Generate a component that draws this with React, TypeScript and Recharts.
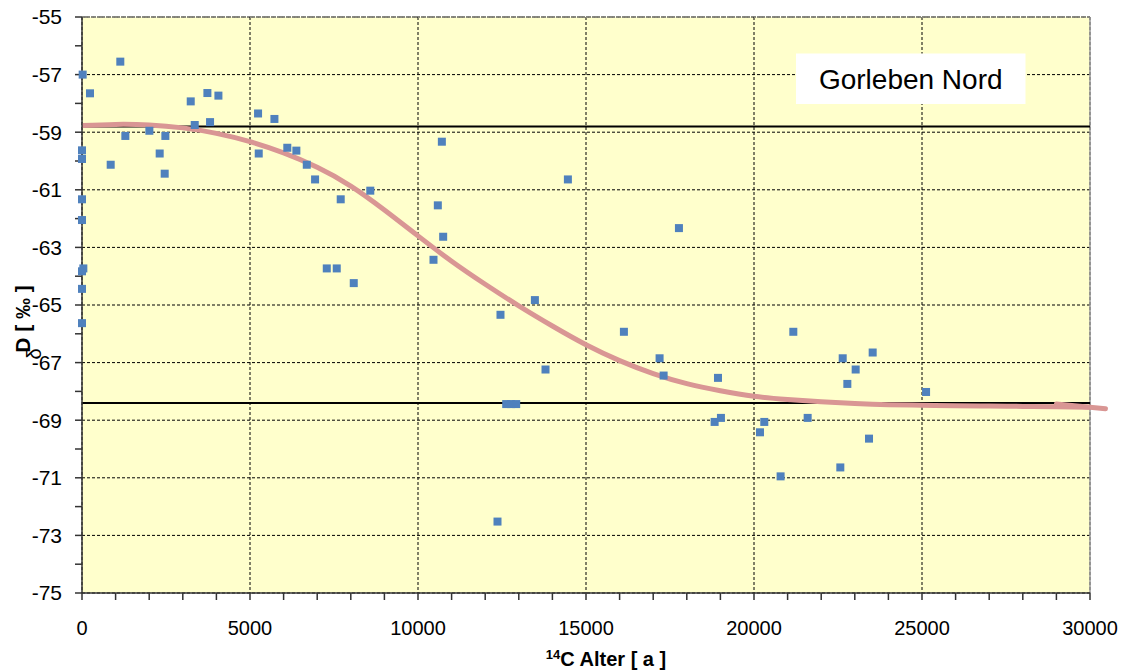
import React from "react";
import {
  ComposedChart, Scatter, Line, XAxis, YAxis, CartesianGrid, ReferenceLine, ReferenceArea, Label,
} from "recharts";

// measured samples: 14C age [a] and deltaD [permil]
const sampleAge = [
  20, 1140, 238, 0, 0, 854, 1290, 2005, 2312, 2481, 2461, 3236, 3355, 3732, 3811, 4060,
  5240, 5727, 5260, 6110, 6380, 6690, 6937, 7700, 8580, 0, 0, 40, 0, 0, 0, 7285, 7582, 8088,
  10710, 14461, 10590, 10749, 10461, 17766, 13479, 12455, 16128, 17190, 17310, 13795, 18928,
  12625, 12770, 12922, 18828, 19016, 20306, 20178, 12366, 21170, 22640, 23532, 23026, 22778,
  25121, 21597, 23423, 22569, 20792,
];
const sampleD = [
  -57.0, -56.55, -57.65, -59.63, -59.93, -60.13, -59.13, -58.95, -59.74, -59.13, -60.44, -57.93, -58.75, -57.64, -58.65, -57.73,
  -58.35, -58.54, -59.74, -59.54, -59.64, -60.13, -60.64, -61.33, -61.03, -61.33, -62.05, -63.73, -63.83, -64.44, -65.63, -63.73, -63.73, -64.24,
  -59.33, -60.64, -61.54, -62.63, -63.43, -62.33, -64.83, -65.34, -65.93, -66.85, -67.45, -67.24, -67.53,
  -68.44, -68.44, -68.44, -69.06, -68.92, -69.06, -69.42, -72.52, -65.93, -66.85, -66.65, -67.24, -67.74,
  -68.02, -68.92, -69.64, -70.64, -70.95,
];

// fitted trend curve
const curveAge = [0, 1000, 2000, 3000, 4000, 5000, 6000, 7000, 8000, 9000, 10000, 11000, 12000, 13000, 14000, 15000,
  16000, 17000, 18000, 19000, 20000, 21000, 22000, 23000, 24000, 25000, 26000, 27000, 28000, 29000, 30000];
const curveD = [-58.77, -58.73, -58.75, -58.85, -59.04, -59.33, -59.72, -60.22, -60.87, -61.7, -62.6, -63.48, -64.28, -65.03, -65.73, -66.38,
  -66.93, -67.38, -67.73, -67.98, -68.17, -68.28, -68.36, -68.42, -68.46, -68.48, -68.5, -68.51, -68.52, -68.53, -68.55];
const curveTail = [{ age: 29000, d: -68.44 }, { age: 30460, d: -68.6 }];

// upper and lower level lines
const upperLevel = -58.8;
const lowerLevel = -68.4;

const xTicks = Array.from({ length: 31 }, (_, i) => i * 1000);
const xMajor = [0, 5000, 10000, 15000, 20000, 25000, 30000];
const yTicks = Array.from({ length: 21 }, (_, i) => -75 + i);
const yMajor = [-75, -73, -71, -69, -67, -65, -63, -61, -59, -57, -55];

const samples = sampleAge.map((age, i) => ({ age, d: sampleD[i] }));
const curve = curveAge.map((age, i) => ({ age, d: curveD[i] }));

const FONT = "'Liberation Sans', Arial, sans-serif";

const Square = (props: any) => (
  <rect x={props.cx - 4} y={props.cy - 4} width={8} height={8} fill="#4F81BD" />
);

const XTitle = () => (
  <text x={606} y={666} textAnchor="middle" fontFamily={FONT} fontWeight="bold" fontSize={20} fill="#000">
    <tspan fontSize={13} dy={-7}>14</tspan>
    <tspan dy={7}>C Alter [ a ]</tspan>
  </text>
);

const YTitle = () => (
  <g fontFamily={FONT} fontWeight="bold" fill="#000">
    <text x={22} y={319} transform="rotate(-90 22 319)" textAnchor="middle" dominantBaseline="central" fontSize={21}>
      D [ ‰ ]
    </text>
    <text x={34} y={354} transform="rotate(-90 34 354)" textAnchor="middle" dominantBaseline="central" fontSize={20} fontWeight="normal">
      δ
    </text>
  </g>
);

export default function App() {
  return (
    <div style={{ position: "absolute", left: 0, top: 0, background: "#fff" }}>
      <ComposedChart width={1131} height={671} margin={{ top: 17, right: 41, left: 0, bottom: 0 }}>
        <CartesianGrid
          fill="#FFFFCC"
          stroke="#000"
          strokeDasharray="3 2"
          horizontalValues={yMajor}
          verticalValues={xMajor}
        />
        <XAxis
          type="number"
          dataKey="age"
          domain={[0, 30000]}
          ticks={xTicks}
          interval={0}
          height={78}
          tickSize={7}
          tickMargin={21}
          tickFormatter={(v: number) => (v % 5000 === 0 ? String(v) : "")}
          tick={{ fill: "#000", fontSize: 20, fontFamily: FONT }}
          axisLine={{ stroke: "#333", strokeWidth: 1.5 }}
          tickLine={{ stroke: "#333", strokeWidth: 1.5 }}
        >
          <Label content={<XTitle />} />
        </XAxis>
        <YAxis
          type="number"
          dataKey="d"
          domain={[-75, -55]}
          ticks={yTicks}
          interval={0}
          width={82}
          tickSize={7}
          tickMargin={13}
          tickFormatter={(v: number) => (Math.abs(v) % 2 === 1 ? String(v) : "")}
          tick={{ fill: "#000", fontSize: 21, fontFamily: FONT }}
          axisLine={{ stroke: "#333", strokeWidth: 1.5 }}
          tickLine={{ stroke: "#333", strokeWidth: 1.5 }}
        >
          <Label content={<YTitle />} />
        </YAxis>
        <ReferenceLine y={-55} stroke="#8a8a80" strokeWidth={2} strokeDasharray="2 1" />
        <ReferenceLine x={30000} stroke="#9a9a9a" strokeWidth={1.5} />
        <ReferenceArea
          x1={21250}
          x2={28080}
          y1={-56.27}
          y2={-58.02}
          fill="#FFFFFF"
          fillOpacity={1}
          stroke="none"
          label={{ value: "Gorleben Nord", position: "center", fontSize: 28, fill: "#000", fontFamily: FONT }}
        />
        <ReferenceLine y={upperLevel} stroke="#000" strokeWidth={2} />
        <ReferenceLine y={lowerLevel} stroke="#000" strokeWidth={2} />
        <Line
          data={curve}
          dataKey="d"
          type="natural"
          stroke="#D99694"
          strokeWidth={5}
          dot={false}
          activeDot={false}
          isAnimationActive={false}
        />
        <ReferenceLine
          segment={[{ x: curveTail[0].age, y: curveTail[0].d }, { x: curveTail[1].age, y: curveTail[1].d }]}
          ifOverflow="visible"
          stroke="#D99694"
          strokeWidth={5}
          strokeLinecap="round"
        />
        <Scatter data={samples} dataKey="d" fill="#4F81BD" shape={<Square />} isAnimationActive={false} />
      </ComposedChart>
    </div>
  );
}
